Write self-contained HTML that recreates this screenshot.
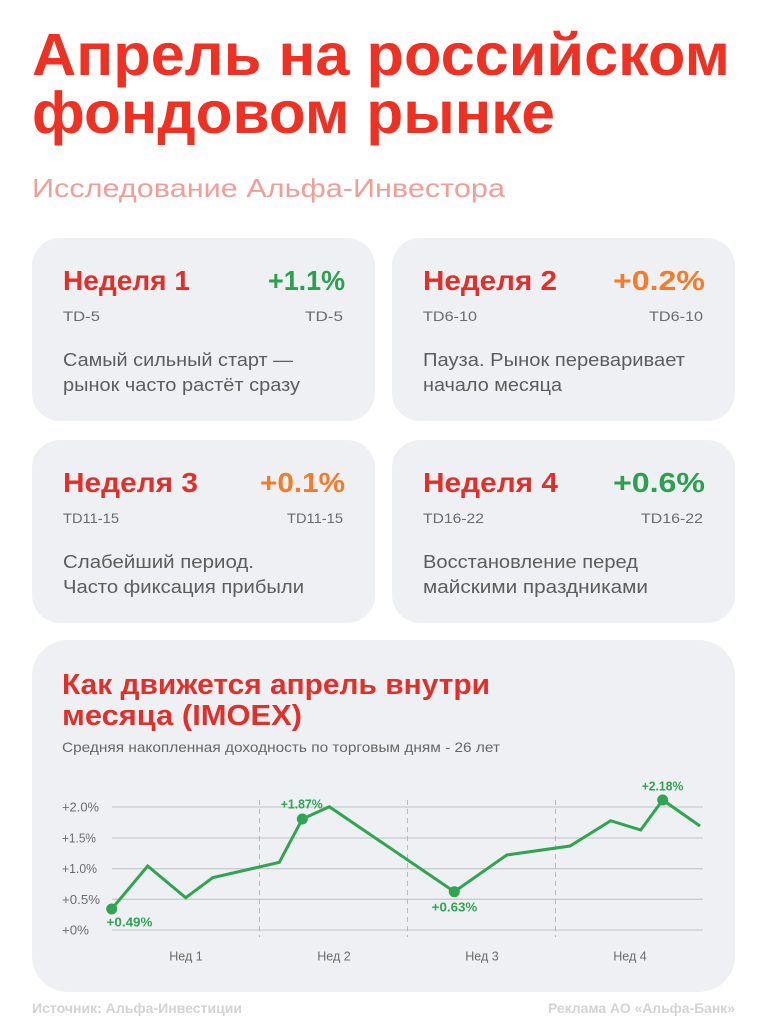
<!DOCTYPE html>
<html lang="ru">
<head>
<meta charset="utf-8">
<style>
  html,body{margin:0;padding:0;background:#fff;}
  body{width:768px;height:1024px;overflow:hidden;}
  svg{display:block;font-family:"Liberation Sans","DejaVu Sans",sans-serif;}
</style>
</head>
<body>
<svg width="768" height="1024" viewBox="0 0 768 1024" xmlns="http://www.w3.org/2000/svg">
  <rect x="0" y="0" width="768" height="1024" fill="#ffffff"/>

  <!-- Title -->
  <text x="32" y="75" font-size="59" font-weight="bold" fill="#ef3124" textLength="698" lengthAdjust="spacingAndGlyphs">Апрель на российском</text>
  <text x="32" y="133" font-size="59" font-weight="bold" fill="#ef3124" textLength="523" lengthAdjust="spacingAndGlyphs">фондовом рынке</text>
  <text x="32" y="197" font-size="26" fill="#f19e98" textLength="473" lengthAdjust="spacingAndGlyphs">Исследование Альфа-Инвестора</text>

  <!-- Cards -->
  <rect x="32" y="238" width="343" height="183" rx="28" fill="#eef0f3"/>
  <rect x="392" y="238" width="343" height="183" rx="28" fill="#eef0f3"/>
  <rect x="32" y="440" width="343" height="183" rx="28" fill="#eef0f3"/>
  <rect x="392" y="440" width="343" height="183" rx="28" fill="#eef0f3"/>

  <!-- Card 1 -->
  <text x="63" y="290" font-size="28" font-weight="bold" fill="#e1302a" textLength="127" lengthAdjust="spacingAndGlyphs">Неделя 1</text>
  <text x="345" y="290" font-size="28" font-weight="bold" fill="#2e9e4f" text-anchor="end" textLength="77" lengthAdjust="spacingAndGlyphs">+1.1%</text>
  <text x="63" y="321" font-size="14" fill="#6b6b6b" textLength="37" lengthAdjust="spacingAndGlyphs">TD-5</text>
  <text x="343" y="321" font-size="14" fill="#6b6b6b" text-anchor="end" textLength="38" lengthAdjust="spacingAndGlyphs">TD-5</text>
  <text x="63" y="366" font-size="18.5" fill="#5c5c5c" textLength="230" lengthAdjust="spacingAndGlyphs">Самый сильный старт —</text>
  <text x="63" y="391" font-size="18.5" fill="#5c5c5c" textLength="237" lengthAdjust="spacingAndGlyphs">рынок часто растёт сразу</text>

  <!-- Card 2 -->
  <text x="423" y="290" font-size="28" font-weight="bold" fill="#e1302a" textLength="134" lengthAdjust="spacingAndGlyphs">Неделя 2</text>
  <text x="705" y="290" font-size="28" font-weight="bold" fill="#f47b2a" text-anchor="end" textLength="92" lengthAdjust="spacingAndGlyphs">+0.2%</text>
  <text x="423" y="321" font-size="14" fill="#6b6b6b" textLength="54" lengthAdjust="spacingAndGlyphs">TD6-10</text>
  <text x="703" y="321" font-size="14" fill="#6b6b6b" text-anchor="end" textLength="54" lengthAdjust="spacingAndGlyphs">TD6-10</text>
  <text x="423" y="366" font-size="18.5" fill="#5c5c5c" textLength="262" lengthAdjust="spacingAndGlyphs">Пауза. Рынок переваривает</text>
  <text x="423" y="391" font-size="18.5" fill="#5c5c5c" textLength="139" lengthAdjust="spacingAndGlyphs">начало месяца</text>

  <!-- Card 3 -->
  <text x="63" y="492" font-size="28" font-weight="bold" fill="#e1302a" textLength="135" lengthAdjust="spacingAndGlyphs">Неделя 3</text>
  <text x="345" y="492" font-size="28" font-weight="bold" fill="#f47b2a" text-anchor="end" textLength="85" lengthAdjust="spacingAndGlyphs">+0.1%</text>
  <text x="63" y="523" font-size="14" fill="#6b6b6b" textLength="56" lengthAdjust="spacingAndGlyphs">TD11-15</text>
  <text x="343" y="523" font-size="14" fill="#6b6b6b" text-anchor="end" textLength="56" lengthAdjust="spacingAndGlyphs">TD11-15</text>
  <text x="63" y="568" font-size="18.5" fill="#5c5c5c" textLength="191" lengthAdjust="spacingAndGlyphs">Слабейший период.</text>
  <text x="63" y="593" font-size="18.5" fill="#5c5c5c" textLength="241" lengthAdjust="spacingAndGlyphs">Часто фиксация прибыли</text>

  <!-- Card 4 -->
  <text x="423" y="492" font-size="28" font-weight="bold" fill="#e1302a" textLength="135" lengthAdjust="spacingAndGlyphs">Неделя 4</text>
  <text x="705" y="492" font-size="28" font-weight="bold" fill="#2e9e4f" text-anchor="end" textLength="92" lengthAdjust="spacingAndGlyphs">+0.6%</text>
  <text x="423" y="523" font-size="14" fill="#6b6b6b" textLength="61" lengthAdjust="spacingAndGlyphs">TD16-22</text>
  <text x="703" y="523" font-size="14" fill="#6b6b6b" text-anchor="end" textLength="62" lengthAdjust="spacingAndGlyphs">TD16-22</text>
  <text x="423" y="568" font-size="18.5" fill="#5c5c5c" textLength="215" lengthAdjust="spacingAndGlyphs">Восстановление перед</text>
  <text x="423" y="593" font-size="18.5" fill="#5c5c5c" textLength="225" lengthAdjust="spacingAndGlyphs">майскими праздниками</text>

  <!-- Chart card -->
  <rect x="32" y="640" width="703" height="352" rx="36" fill="#eef0f3"/>
  <text x="62" y="694" font-size="29" font-weight="bold" fill="#e1302a" textLength="428" lengthAdjust="spacingAndGlyphs">Как движется апрель внутри</text>
  <text x="62" y="725" font-size="29" font-weight="bold" fill="#e1302a" textLength="240" lengthAdjust="spacingAndGlyphs">месяца (IMOEX)</text>
  <text x="62" y="752" font-size="14" fill="#666666" textLength="438" lengthAdjust="spacingAndGlyphs">Средняя накопленная доходность по торговым дням - 26 лет</text>

  <!-- Grid -->
  <g stroke="#c9cbce" stroke-width="1.3">
    <line x1="112" y1="807" x2="703" y2="807"/>
    <line x1="112" y1="838" x2="703" y2="838"/>
    <line x1="112" y1="868.7" x2="703" y2="868.7"/>
    <line x1="112" y1="899.3" x2="703" y2="899.3"/>
    <line x1="112" y1="930" x2="703" y2="930"/>
  </g>
  <g stroke="#b9bbbe" stroke-width="1" stroke-dasharray="5 4">
    <line x1="259.5" y1="800" x2="259.5" y2="937"/>
    <line x1="407.5" y1="800" x2="407.5" y2="937"/>
    <line x1="555.5" y1="800" x2="555.5" y2="937"/>
  </g>

  <!-- Y labels -->
  <g font-size="13" fill="#6b6b6b">
    <text x="62" y="811.5" textLength="37" lengthAdjust="spacingAndGlyphs">+2.0%</text>
    <text x="62" y="842.5" textLength="34" lengthAdjust="spacingAndGlyphs">+1.5%</text>
    <text x="62" y="873.2" textLength="35" lengthAdjust="spacingAndGlyphs">+1.0%</text>
    <text x="62" y="903.8" textLength="38" lengthAdjust="spacingAndGlyphs">+0.5%</text>
    <text x="62" y="934.5" textLength="27" lengthAdjust="spacingAndGlyphs">+0%</text>
  </g>

  <!-- X labels -->
  <g font-size="12.5" fill="#6b6b6b" text-anchor="middle">
    <text x="186" y="960.5">Нед 1</text>
    <text x="334" y="960.5">Нед 2</text>
    <text x="482" y="960.5">Нед 3</text>
    <text x="630" y="960.5">Нед 4</text>
  </g>

  <!-- Series -->
  <polyline fill="none" stroke="#2fa551" stroke-width="3" stroke-linejoin="miter"
    points="111.7,909 147.7,866 185.7,897.7 212.7,877.7 279.3,862.3 302.3,819 329.3,806.7 454.3,891.7 506.7,855 570,846 610.7,820.7 640.7,830 662.7,800 700,826"/>
  <g fill="#2fa551">
    <circle cx="111.7" cy="909" r="5.5"/>
    <circle cx="302.3" cy="819" r="5.5"/>
    <circle cx="454.3" cy="891.7" r="5.5"/>
    <circle cx="662.7" cy="800" r="5.5"/>
  </g>
  <g font-size="12.5" font-weight="bold" fill="#2fa551">
    <text x="106.5" y="926.5" textLength="46" lengthAdjust="spacingAndGlyphs">+0.49%</text>
    <text x="280.7" y="808.5" textLength="42" lengthAdjust="spacingAndGlyphs">+1.87%</text>
    <text x="431.7" y="911.5" textLength="45.6" lengthAdjust="spacingAndGlyphs">+0.63%</text>
    <text x="641.7" y="790.5" textLength="41.6" lengthAdjust="spacingAndGlyphs">+2.18%</text>
  </g>

  <!-- Footer -->
  <text x="32" y="1013" font-size="14" font-weight="bold" fill="#d2d3d5" textLength="210" lengthAdjust="spacingAndGlyphs">Источник: Альфа-Инвестиции</text>
  <text x="735" y="1013" font-size="14" font-weight="bold" fill="#d2d3d5" text-anchor="end" textLength="187" lengthAdjust="spacingAndGlyphs">Реклама АО «Альфа-Банк»</text>
</svg>
</body>
</html>
